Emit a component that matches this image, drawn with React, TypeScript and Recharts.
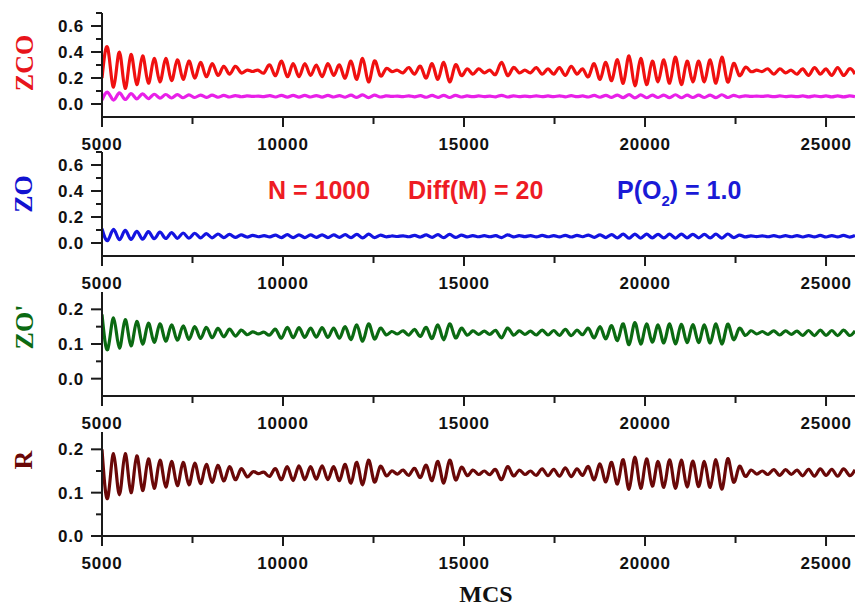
import React from 'react';
import { LineChart, Line, XAxis, YAxis } from 'recharts';

// sampling grid of the simulation output (MCS)
const SAMPLE_START = 5000;
const SAMPLE_STEP = 160;

const xTicks = [5000, 7500, 10000, 12500, 15000, 17500, 20000, 22500, 25000];
const xMajor = [5000, 10000, 15000, 20000, 25000];

// ZCO (red)
const zco = [
  0.20, 0.43, 0.13, 0.40, 0.12, 0.38, 0.15, 0.37, 0.16, 0.35,
  0.17, 0.35, 0.18, 0.34, 0.19, 0.33, 0.20, 0.32, 0.21, 0.31,
  0.22, 0.29, 0.23, 0.29, 0.24, 0.26, 0.25, 0.26, 0.24, 0.30,
  0.22, 0.33, 0.21, 0.31, 0.21, 0.31, 0.22, 0.30, 0.21, 0.31,
  0.22, 0.30, 0.20, 0.33, 0.19, 0.35, 0.17, 0.33, 0.22, 0.27,
  0.25, 0.26, 0.24, 0.28, 0.23, 0.29, 0.20, 0.31, 0.19, 0.32,
  0.17, 0.30, 0.22, 0.27, 0.23, 0.27, 0.24, 0.26, 0.23, 0.32,
  0.22, 0.28, 0.24, 0.26, 0.24, 0.28, 0.23, 0.27, 0.23, 0.28,
  0.22, 0.29, 0.23, 0.27, 0.21, 0.31, 0.19, 0.32, 0.18, 0.34,
  0.16, 0.37, 0.14, 0.35, 0.15, 0.33, 0.17, 0.34, 0.16, 0.36,
  0.15, 0.33, 0.17, 0.33, 0.17, 0.34, 0.16, 0.36, 0.17, 0.31,
  0.22, 0.28, 0.25, 0.26, 0.25, 0.27, 0.23, 0.27, 0.24, 0.26,
  0.23, 0.27, 0.22, 0.28, 0.23, 0.27, 0.22, 0.28, 0.22, 0.27, 0.23,
];

// lower ZCO trace (magenta)
const zcoLow = [
  0.03, 0.09, 0.03, 0.085, 0.035, 0.08, 0.04, 0.078, 0.042, 0.075,
  0.045, 0.073, 0.046, 0.072, 0.048, 0.07, 0.05, 0.069, 0.051, 0.068,
  0.052, 0.066, 0.054, 0.065, 0.056, 0.062, 0.058, 0.061, 0.057, 0.064,
  0.054, 0.067, 0.053, 0.066, 0.053, 0.066, 0.054, 0.065, 0.053, 0.066,
  0.054, 0.065, 0.052, 0.068, 0.051, 0.07, 0.049, 0.068, 0.054, 0.062,
  0.058, 0.061, 0.057, 0.063, 0.055, 0.064, 0.052, 0.066, 0.051, 0.067,
  0.05, 0.066, 0.054, 0.062, 0.056, 0.062, 0.057, 0.061, 0.055, 0.067,
  0.054, 0.063, 0.057, 0.061, 0.057, 0.063, 0.056, 0.062, 0.056, 0.063,
  0.055, 0.064, 0.056, 0.062, 0.054, 0.066, 0.052, 0.067, 0.051, 0.069,
  0.049, 0.072, 0.047, 0.07, 0.048, 0.068, 0.05, 0.069, 0.049, 0.071,
  0.048, 0.068, 0.05, 0.068, 0.05, 0.069, 0.049, 0.071, 0.05, 0.066,
  0.055, 0.063, 0.058, 0.061, 0.058, 0.062, 0.056, 0.062, 0.057, 0.061,
  0.056, 0.062, 0.055, 0.063, 0.056, 0.062, 0.055, 0.063, 0.055, 0.062, 0.056,
];

// ZO (blue)
const zo = [
  0.11, 0.02, 0.105, 0.025, 0.097, 0.028, 0.09, 0.03, 0.087, 0.033,
  0.083, 0.035, 0.08, 0.036, 0.077, 0.037, 0.075, 0.039, 0.072, 0.04,
  0.069, 0.042, 0.066, 0.043, 0.062, 0.046, 0.058, 0.048, 0.056, 0.047,
  0.06, 0.042, 0.064, 0.041, 0.063, 0.042, 0.062, 0.043, 0.063, 0.042,
  0.062, 0.043, 0.064, 0.041, 0.066, 0.039, 0.068, 0.042, 0.06, 0.048,
  0.054, 0.05, 0.055, 0.048, 0.058, 0.046, 0.062, 0.043, 0.064, 0.041,
  0.066, 0.043, 0.06, 0.047, 0.057, 0.048, 0.056, 0.048, 0.057, 0.042,
  0.062, 0.047, 0.056, 0.049, 0.056, 0.047, 0.058, 0.048, 0.057, 0.047,
  0.059, 0.046, 0.058, 0.048, 0.061, 0.044, 0.063, 0.042, 0.065, 0.04,
  0.068, 0.037, 0.069, 0.038, 0.068, 0.04, 0.067, 0.039, 0.068, 0.038,
  0.069, 0.04, 0.067, 0.04, 0.066, 0.039, 0.068, 0.038, 0.069, 0.042,
  0.06, 0.047, 0.055, 0.049, 0.055, 0.048, 0.056, 0.047, 0.056, 0.048,
  0.057, 0.046, 0.057, 0.047, 0.058, 0.046, 0.057, 0.047, 0.058, 0.046, 0.057,
];

// ZO' (green)
const zoPrime = [
  0.185, 0.085, 0.175, 0.088, 0.17, 0.095, 0.165, 0.1, 0.16, 0.105,
  0.158, 0.108, 0.155, 0.111, 0.152, 0.113, 0.15, 0.116, 0.148, 0.118,
  0.145, 0.121, 0.143, 0.123, 0.14, 0.127, 0.135, 0.129, 0.134, 0.126,
  0.142, 0.117, 0.148, 0.118, 0.147, 0.119, 0.146, 0.12, 0.147, 0.119,
  0.146, 0.117, 0.15, 0.113, 0.155, 0.108, 0.158, 0.115, 0.145, 0.127,
  0.136, 0.129, 0.138, 0.126, 0.142, 0.122, 0.148, 0.116, 0.155, 0.112,
  0.158, 0.118, 0.145, 0.126, 0.138, 0.128, 0.137, 0.128, 0.139, 0.118,
  0.146, 0.126, 0.138, 0.128, 0.137, 0.126, 0.14, 0.126, 0.139, 0.125,
  0.142, 0.124, 0.14, 0.127, 0.145, 0.118, 0.15, 0.115, 0.153, 0.11,
  0.158, 0.098, 0.162, 0.1, 0.158, 0.105, 0.155, 0.103, 0.158, 0.1,
  0.157, 0.104, 0.156, 0.104, 0.155, 0.103, 0.158, 0.1, 0.157, 0.113,
  0.145, 0.125, 0.138, 0.129, 0.136, 0.128, 0.138, 0.126, 0.138, 0.128,
  0.137, 0.125, 0.139, 0.124, 0.14, 0.125, 0.139, 0.124, 0.14, 0.125, 0.138,
];

// R (dark red)
const rate = [
  0.20, 0.088, 0.19, 0.095, 0.19, 0.10, 0.185, 0.105, 0.178, 0.11,
  0.175, 0.113, 0.172, 0.116, 0.17, 0.118, 0.168, 0.121, 0.165, 0.124,
  0.163, 0.127, 0.16, 0.13, 0.155, 0.137, 0.148, 0.144, 0.147, 0.138,
  0.155, 0.13, 0.16, 0.128, 0.162, 0.13, 0.16, 0.131, 0.162, 0.13,
  0.16, 0.128, 0.165, 0.122, 0.17, 0.118, 0.175, 0.125, 0.16, 0.14,
  0.15, 0.143, 0.152, 0.14, 0.156, 0.135, 0.163, 0.128, 0.172, 0.122,
  0.175, 0.13, 0.158, 0.14, 0.152, 0.142, 0.15, 0.142, 0.153, 0.13,
  0.16, 0.139, 0.152, 0.142, 0.15, 0.14, 0.155, 0.139, 0.154, 0.138,
  0.157, 0.137, 0.155, 0.14, 0.16, 0.13, 0.166, 0.125, 0.17, 0.12,
  0.176, 0.108, 0.182, 0.11, 0.178, 0.115, 0.172, 0.112, 0.176, 0.11,
  0.175, 0.113, 0.173, 0.114, 0.172, 0.112, 0.176, 0.108, 0.178, 0.125,
  0.16, 0.138, 0.152, 0.143, 0.15, 0.142, 0.153, 0.14, 0.153, 0.142,
  0.152, 0.139, 0.154, 0.138, 0.155, 0.14, 0.154, 0.138, 0.155, 0.14, 0.153,
];

const rows = zco.map((v, i) => ({
  mcs: SAMPLE_START + i * SAMPLE_STEP,
  zco: v,
  zcoLow: zcoLow[i],
  zo: zo[i],
  zoPrime: zoPrime[i],
  rate: rate[i],
}));

const AXIS = '#1a1a1a';
const tickFont: React.CSSProperties = {
  fontFamily: '"Liberation Sans", Arial, sans-serif',
  fontWeight: 700,
  fontSize: 17,
  letterSpacing: 0.8,
};

function makeYTick(major: number[]) {
  return (props: any) => {
    const { x, y, payload } = props;
    const isMajor = major.some((m) => Math.abs(m - payload.value) < 1e-9);
    return (
      <g>
        <line x1={x - (isMajor ? 11 : 6)} x2={x} y1={y} y2={y} stroke={AXIS} strokeWidth={2} />
        {isMajor && (
          <text x={x - 18} y={y} dy="0.36em" textAnchor="end" fill="#111" style={tickFont}>
            {payload.value.toFixed(1)}
          </text>
        )}
      </g>
    );
  };
}

const XTick = (props: any) => {
  const { x, y, payload } = props;
  const isMajor = xMajor.includes(payload.value);
  return (
    <g>
      <line x1={x} x2={x} y1={y} y2={y + (isMajor ? 10 : 7)} stroke={AXIS} strokeWidth={2} />
      {isMajor && (
        <text x={x} y={y + 27} dy="0.36em" textAnchor="middle" fill="#111" style={tickFont}>
          {payload.value}
        </text>
      )}
    </g>
  );
};

interface PanelProps {
  top: number;
  domain: [number, number];
  major: number[];
  minor: number[];
  series: { key: string; color: string }[];
}

function Panel({ top, domain, major, minor, series }: PanelProps) {
  return (
    <div style={{ position: 'absolute', left: 0, top: top - 10 }}>
      <LineChart width={855} height={160} data={rows} margin={{ top: 10, right: 0, bottom: 0, left: 42 }}>
        <XAxis
          dataKey="mcs"
          type="number"
          domain={[5000, 25800]}
          ticks={xTicks}
          allowDataOverflow
          height={46}
          tickSize={0}
          tickMargin={0}
          tickLine={false}
          axisLine={{ stroke: AXIS, strokeWidth: 2 }}
          tick={XTick}
          interval={0}
        />
        <YAxis
          type="number"
          domain={domain}
          ticks={[...major, ...minor].sort((a, b) => a - b)}
          allowDataOverflow
          width={60}
          tickSize={0}
          tickMargin={0}
          tickLine={false}
          axisLine={{ stroke: AXIS, strokeWidth: 2 }}
          tick={makeYTick(major)}
          interval={0}
        />
        {series.map((s) => (
          <Line
            key={s.key}
            dataKey={s.key}
            type="natural"
            stroke={s.color}
            strokeWidth={3.2}
            dot={false}
            isAnimationActive={false}
          />
        ))}
      </LineChart>
    </div>
  );
}

const serifLabel: React.CSSProperties = {
  fontFamily: '"Liberation Serif", "Times New Roman", serif',
  fontWeight: 700,
  fontSize: 26,
};
const sansNote: React.CSSProperties = {
  fontFamily: '"Liberation Sans", Arial, sans-serif',
  fontWeight: 700,
  fontSize: 25,
};

export default function App() {
  return (
    <div style={{ position: 'absolute', left: 0, top: 0, width: 855, height: 607, overflow: 'hidden', background: '#fff' }}>
      <Panel
        top={13}
        domain={[-0.1, 0.7]}
        major={[0, 0.2, 0.4, 0.6]}
        minor={[0.1, 0.3, 0.5, 0.7]}
        series={[
          { key: 'zco', color: '#f01010' },
          { key: 'zcoLow', color: '#e820e8' },
        ]}
      />
      <Panel
        top={152}
        domain={[-0.1, 0.7]}
        major={[0, 0.2, 0.4, 0.6]}
        minor={[0.1, 0.3, 0.5, 0.7]}
        series={[{ key: 'zo', color: '#1414e0' }]}
      />
      <Panel
        top={292}
        domain={[-0.05, 0.25]}
        major={[0, 0.1, 0.2]}
        minor={[0.05, 0.15]}
        series={[{ key: 'zoPrime', color: '#0b6a12' }]}
      />
      <Panel
        top={432}
        domain={[0, 0.24]}
        major={[0, 0.1, 0.2]}
        minor={[0.05, 0.15]}
        series={[{ key: 'rate', color: '#6a0808' }]}
      />
      <svg width={855} height={607} style={{ position: 'absolute', left: 0, top: 0, pointerEvents: 'none' }}>
        <text transform="translate(24,63) rotate(-90)" textAnchor="middle" dominantBaseline="central" fill="#e8141b" style={serifLabel}>ZCO</text>
        <text transform="translate(23,194) rotate(-90)" textAnchor="middle" dominantBaseline="central" fill="#1212d0" style={serifLabel}>ZO</text>
        <text transform="translate(24,327) rotate(-90)" textAnchor="middle" dominantBaseline="central" fill="#0b6a12" style={serifLabel}>ZO'</text>
        <text transform="translate(23,460) rotate(-90)" textAnchor="middle" dominantBaseline="central" fill="#6a0808" style={serifLabel}>R</text>
        <text x={268} y={199} fill="#ee1c24" style={sansNote}>N = 1000</text>
        <text x={408} y={199} fill="#ee1c24" style={sansNote}>Diff(M) = 20</text>
        <text x={617} y={199} fill="#1a1ad6" style={sansNote}>
          P(O<tspan dy={7} fontSize={15}>2</tspan><tspan dy={-7}>) = 1.0</tspan>
        </text>
        <text x={486} y={602} textAnchor="middle" fill="#111" style={{ ...serifLabel, fontSize: 24 }}>MCS</text>
      </svg>
    </div>
  );
}
